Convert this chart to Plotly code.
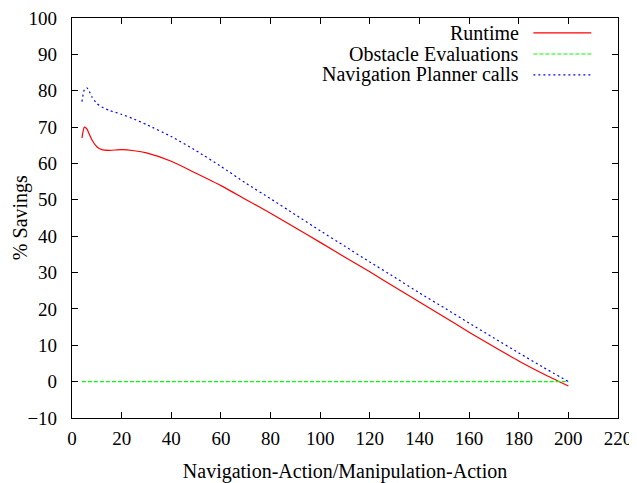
import plotly.graph_objects as go

# Data
x_vals = [4, 5, 6, 7, 8, 10, 12, 15, 20, 25, 30, 40, 50, 60, 70, 80, 90, 100,
          110, 120, 130, 140, 150, 160, 170, 180, 190, 200]
runtime = [67.0, 70.0, 69.5, 68.0, 66.5, 64.6, 63.8, 63.6, 63.8, 63.5, 62.9, 60.6,
           57.3, 53.9, 50.1, 46.3, 42.3, 38.3, 34.2, 30.2, 26.0, 21.9, 17.8, 13.6,
           9.6, 5.7, 2.1, -1.2]
obstacle = [0.0] * len(x_vals)
nav_calls = [77.0, 80.3, 80.8, 79.8, 78.3, 76.5, 75.5, 74.6, 73.5, 72.2, 70.7, 67.4,
             63.5, 59.2, 54.6, 50.3, 45.9, 41.5, 37.2, 32.9, 28.7, 24.4, 20.3, 16.1,
             12.0, 7.9, 3.9, 0.0]

series_names = ["Runtime", "Obstacle Evaluations", "Navigation Planner calls"]
series_colors = ["#ff0000", "#00ff00", "#0000ff"]
series_dash = ["solid", "4px,2px", "2px,3px"]
series_data = [runtime, obstacle, nav_calls]

x_ticks = list(range(0, 221, 20))
y_ticks = list(range(-10, 101, 10))

FONT = "Liberation Serif, Times New Roman, serif"
FS_TICK = 19
FS = 20

fig = go.Figure()
for name, col, dash, ys in zip(series_names, series_colors, series_dash, series_data):
    fig.add_trace(go.Scatter(
        x=x_vals, y=ys, name=name, mode="lines",
        line=dict(color=col, width=1.2, dash=dash, shape="spline", smoothing=0.6),
        showlegend=False, cliponaxis=False,
    ))

# custom gnuplot-style legend: text right-aligned, sample on the right
leg_y = [0.963, 0.910, 0.858]
for name, col, dash, yy in zip(series_names, series_colors, series_dash, leg_y):
    fig.add_annotation(x=0.823, y=yy, xref="paper", yref="paper", text=name,
                       showarrow=False, xanchor="right", yanchor="middle",
                       font=dict(family=FONT, size=FS, color="black"))
    fig.add_shape(type="line", xref="paper", yref="paper",
                  x0=0.845, x1=0.951, y0=yy, y1=yy,
                  line=dict(color=col, width=1.2, dash=dash))

# y axis title
fig.add_annotation(x=-0.095, y=0.5, xref="paper", yref="paper", text="% Savings",
                   showarrow=False, textangle=-90, xanchor="center", yanchor="middle",
                   font=dict(family=FONT, size=FS, color="black"))

axis_common = dict(
    showgrid=False, zeroline=False, showline=True, linecolor="black", linewidth=1.2,
    mirror="ticks", ticks="inside", ticklen=6, tickwidth=1, tickcolor="black",
    tickfont=dict(family=FONT, size=FS_TICK, color="black"), automargin=False,
    ticklabeloverflow="allow",
)

fig.update_layout(
    width=629, height=475,
    margin=dict(l=64, r=19, t=10, b=65),
    paper_bgcolor="white", plot_bgcolor="white",
    xaxis=dict(range=[0, 220], tickvals=x_ticks, ticklabelstandoff=3, **axis_common,
               title=dict(text="Navigation-Action/Manipulation-Action",
                          font=dict(family=FONT, size=FS, color="black"), standoff=16)),
    yaxis=dict(range=[-10, 100], tickvals=y_ticks, ticklabelstandoff=10, **axis_common),
)

fig.write_html("out.html")
